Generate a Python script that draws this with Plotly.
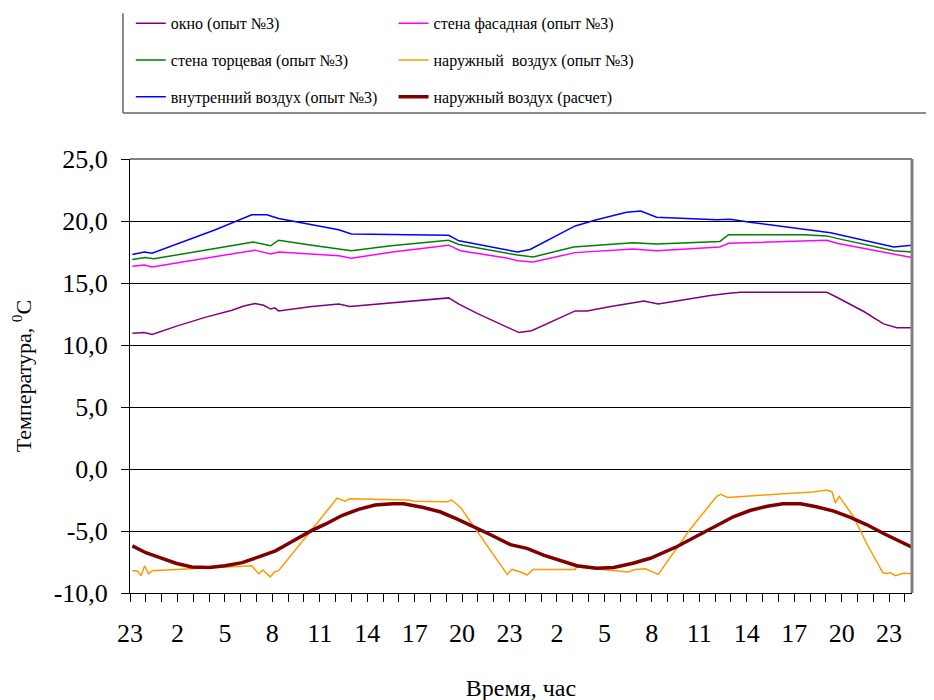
import plotly.graph_objects as go

# ---- data (hours from the first "23" tick) ----
okno_h = [0.15, 0.9, 1.4, 2.9, 4.8, 6.45, 7.2, 7.9, 8.45, 8.9, 9.15, 9.4, 11.5, 13.2, 13.9, 16.5,
          20.15, 20.8, 21.95, 24.6, 25.4, 28.15, 28.9, 30.4, 32.5, 33.4, 36.7, 37.75, 38.6, 44.06,
          44.7, 46.4, 47.65, 48.5, 49.45]
okno_v = [10.95, 11.0, 10.85, 11.5, 12.25, 12.8, 13.15, 13.35, 13.2, 12.9, 13.0, 12.75, 13.1, 13.3, 13.1, 13.4,
          13.8, 13.3, 12.55, 11.0, 11.15, 12.75, 12.75, 13.1, 13.55, 13.3, 14.0, 14.15, 14.25, 14.25,
          13.85, 12.7, 11.7, 11.4, 11.4]

fasad_h = [0.15, 0.9, 1.4, 7.9, 8.9, 9.4, 13.2, 14.0, 16.6, 20.15, 20.9, 23.9, 24.5, 25.5, 28.15,
           31.8, 33.3, 37.3, 37.85, 44.06, 44.7, 49.45]
fasad_v = [16.35, 16.45, 16.3, 17.65, 17.35, 17.5, 17.2, 17.0, 17.5, 18.05, 17.6, 17.0, 16.8, 16.7, 17.45,
           17.75, 17.6, 17.9, 18.2, 18.45, 18.2, 17.05]

torc_h = [0.15, 0.95, 1.5, 2.7, 7.8, 8.9, 9.4, 11.5, 13.2, 14.0, 16.5, 20.15, 20.8, 24.5, 25.5, 28.05,
          31.8, 33.3, 37.3, 37.85, 42.6, 44.06, 44.7, 48.3, 49.45]
torc_v = [16.9, 17.05, 16.95, 17.2, 18.3, 18.0, 18.45, 18.05, 17.75, 17.6, 18.0, 18.45, 18.1, 17.25, 17.1, 17.9,
          18.25, 18.15, 18.35, 18.9, 18.9, 18.8, 18.6, 17.6, 17.5]

vnutr_h = [0.15, 0.9, 1.4, 2.25, 5.4, 7.7, 8.65, 9.4, 11.5, 13.2, 14.0, 16.5, 20.15, 20.8, 24.5, 25.3,
           28.15, 29.5, 31.4, 32.3, 32.9, 33.3, 37.1, 37.95, 39.2, 44.3, 48.3, 49.45]
vnutr_v = [17.3, 17.5, 17.4, 17.8, 19.3, 20.5, 20.5, 20.2, 19.7, 19.3, 18.95, 18.9, 18.85, 18.4, 17.5, 17.7,
           19.6, 20.1, 20.7, 20.8, 20.5, 20.3, 20.1, 20.15, 19.9, 19.05, 17.9, 18.05]

nar_h = [0.15, 0.45, 0.7, 0.93, 1.18, 1.4, 3.9, 7.7, 8.13, 8.4, 8.87, 9.13, 9.4, 11.5, 13.1, 13.6, 13.9,
         17.6, 18.0, 20.05, 20.35, 20.9, 23.85, 24.15, 24.8, 25.1, 25.5, 28.15, 28.25, 31.5, 31.95,
         32.6, 33.1, 33.4, 35.4, 37.1, 37.35, 37.8, 41.3, 43.2, 44.06, 44.4, 44.6, 44.85, 45.75,
         46.6, 47.6, 47.85, 48.05, 48.4, 48.9, 49.45]
nar_v = [-8.2, -8.2, -8.6, -7.8, -8.45, -8.2, -8.05, -7.8, -8.45, -8.15, -8.7, -8.3, -8.2, -4.9, -2.35, -2.6, -2.4,
         -2.5, -2.6, -2.65, -2.5, -3.1, -8.5, -8.1, -8.35, -8.55, -8.1, -8.1, -7.9, -8.3, -8.1,
         -8.05, -8.3, -8.5, -4.9, -2.2, -2.05, -2.3, -2.0, -1.85, -1.7, -1.85, -2.75, -2.2, -3.85,
         -6.05, -8.35, -8.45, -8.35, -8.6, -8.4, -8.45]

calc_h = [0.15, 1.0, 1.8, 2.9, 3.9, 5.0, 6.0, 7.1, 8.1, 9.2, 10.25, 11.5, 12.35, 13.4, 14.45, 15.5,
          16.6, 17.3, 18.55, 19.6, 20.7, 21.5, 22.8, 24.05, 25.1, 26.15, 27.2, 28.25, 29.5, 30.6,
          31.8, 32.9, 34.6, 36.05, 37.1, 38.15, 39.2, 40.3, 41.3, 42.4, 43.4, 44.5, 45.55, 46.6,
          47.65, 49.45]
calc_v = [-6.2, -6.75, -7.1, -7.6, -7.9, -7.95, -7.8, -7.55, -7.1, -6.6, -5.85, -4.95, -4.45, -3.75, -3.25, -2.9,
          -2.8, -2.8, -3.1, -3.45, -4.05, -4.5, -5.3, -6.1, -6.4, -6.95, -7.4, -7.8, -8.0, -7.95,
          -7.6, -7.2, -6.25, -5.25, -4.5, -3.85, -3.35, -3.0, -2.8, -2.8, -3.05, -3.4, -3.9, -4.5,
          -5.2, -6.3]

x_label_hours = list(range(0, 49, 3))
x_label_text = [str((23 + h) % 24) for h in x_label_hours]
x_minor_hours = list(range(0, 50))
y_tick_vals = [-10, -5, 0, 5, 10, 15, 20, 25]
y_tick_text = ["-10,0", "-5,0", "0,0", "5,0", "10,0", "15,0", "20,0", "25,0"]

names = ["окно (опыт №3)", "стена фасадная (опыт №3)", "стена торцевая (опыт №3)",
         "наружный\u00a0 воздух (опыт №3)", "внутренний воздух (опыт №3)", "наружный воздух (расчет)"]

FONT = "Times New Roman, Liberation Serif, DejaVu Serif, serif"

series = [
    (okno_h, okno_v, names[0], "#800080", 1.5, "legend"),
    (fasad_h, fasad_v, names[1], "#FF00FF", 1.5, "legend2"),
    (torc_h, torc_v, names[2], "#008000", 1.5, "legend"),
    (nar_h, nar_v, names[3], "#FF9900", 1.5, "legend2"),
    (vnutr_h, vnutr_v, names[4], "#0000FF", 1.5, "legend"),
    (calc_h, calc_v, names[5], "#800000", 3.5, "legend2"),
]

fig = go.Figure()
for i, (hx, vy, nm, col, w, lg) in enumerate(series):
    fig.add_trace(go.Scatter(x=hx, y=vy, mode="lines", name=nm,
                             line=dict(color=col, width=w),
                             legend=lg, legendgroup="g%d" % i))

fig.update_layout(
    width=934, height=700,
    margin=dict(l=122, r=30, t=151, b=115, autoexpand=False),
    paper_bgcolor="white", plot_bgcolor="white",
    font=dict(family=FONT, color="black", size=20),
    legend=dict(x=0.001, xanchor="left", y=1.352, yanchor="top",
                font=dict(family=FONT, size=16), tracegroupgap=13,
                bgcolor="rgba(0,0,0,0)", traceorder="grouped"),
    legend2=dict(x=0.337, xanchor="left", y=1.352, yanchor="top",
                 font=dict(family=FONT, size=16), tracegroupgap=13,
                 bgcolor="rgba(0,0,0,0)", traceorder="grouped"),
    xaxis=dict(range=[0, 49.45], tickmode="array", tickvals=x_label_hours, ticktext=x_label_text,
               ticks="outside", ticklen=8, tickcolor="black", tickwidth=1,
               minor=dict(tickmode="array", tickvals=x_minor_hours, ticks="outside", ticklen=8,
                          tickcolor="black", tickwidth=1, showgrid=False),
               showline=True, linecolor="black", linewidth=1, showgrid=False, zeroline=False,
               tickfont=dict(family=FONT, size=26), ticklabelstandoff=9,
               title=dict(text="Время, час", font=dict(family=FONT, size=24), standoff=31)),
    yaxis=dict(range=[-10, 25], tickmode="array", tickvals=y_tick_vals, ticktext=y_tick_text,
               ticks="outside", ticklen=8, tickcolor="black", tickwidth=1,
               showline=True, linecolor="black", linewidth=1,
               showgrid=True, gridcolor="black", gridwidth=1, zeroline=False,
               tickfont=dict(family=FONT, size=26), ticklabelstandoff=8,
               title=dict(text="Температура, <sup>0</sup>C", font=dict(family=FONT, size=22), standoff=15)),
    shapes=[
        dict(type="line", xref="paper", yref="paper", x0=0, x1=1, y0=1, y1=1,
             line=dict(color="#808080", width=2)),
        dict(type="line", xref="paper", yref="paper", x0=1, x1=1, y0=0, y1=1,
             line=dict(color="#808080", width=3)),
        dict(type="line", xref="paper", yref="paper", x0=-0.009, x1=-0.009, y0=1.106, y1=1.336,
             line=dict(color="#666666", width=1.5)),
        dict(type="line", xref="paper", yref="paper", x0=-0.009, x1=1.03, y0=1.106, y1=1.106,
             line=dict(color="#666666", width=1.5)),
    ],
)

fig.write_html("out.html")
